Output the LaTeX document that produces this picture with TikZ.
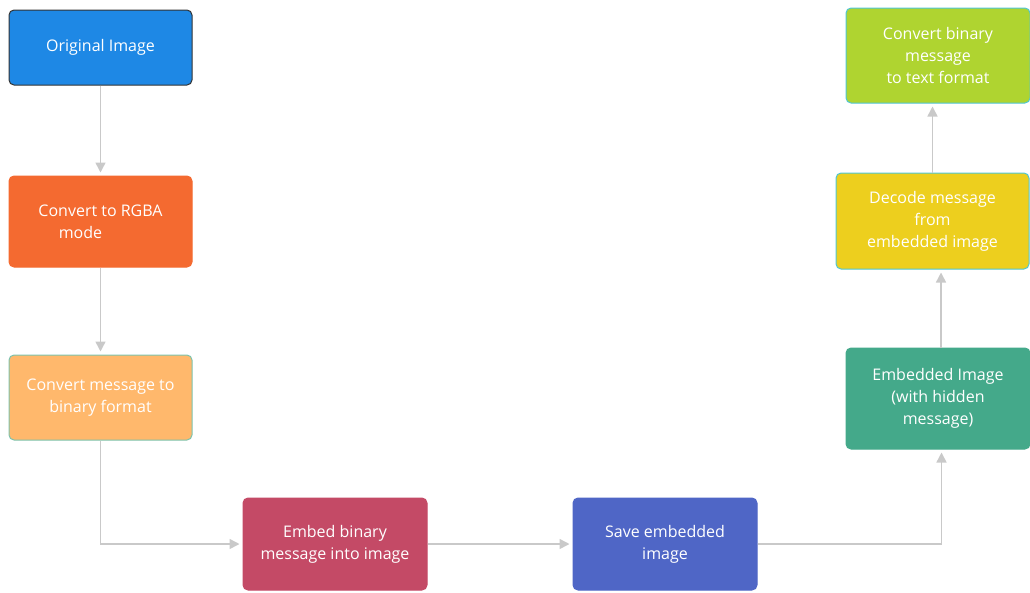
\documentclass[tikz,border=0pt]{standalone}
\usepackage{fontspec}
\setmainfont{Open Sans}
\usetikzlibrary{arrows.meta}
\definecolor{cBlue}{HTML}{1E88E5}
\definecolor{cOrange}{HTML}{F46A30}
\definecolor{cPeach}{HTML}{FFB86C}
\definecolor{cRose}{HTML}{C44A66}
\definecolor{cIndigo}{HTML}{4F66C6}
\definecolor{cTeal}{HTML}{44A98A}
\definecolor{cYellow}{HTML}{EDCF1E}
\definecolor{cLime}{HTML}{AFD430}
\definecolor{cCyan}{HTML}{4FC6D4}
\definecolor{cLine}{HTML}{C9C9C9}
\tikzset{
  stepbox/.style={
    rectangle, rounded corners=5pt, fill=#1, draw=#1, line width=1pt,
    text=white, align=center, inner sep=2pt,
    font=\fontsize{16}{22}\selectfont
  },
  flow/.style={
    draw=cLine, line width=1.5pt, shorten >=3pt,
    -{Triangle[width=10pt,length=10pt]}
  }
}

\begin{document}
\begin{tikzpicture}[x=1pt,y=-1pt]
\useasboundingbox (0,0) rectangle (1030,592);

\node[stepbox=cBlue, draw=black!80, minimum width=183pt, minimum height=75pt] (orig) at (100.5,47.5) {Original Image};
\node[stepbox=cOrange, minimum width=183pt, minimum height=91pt] (rgba) at (100.5,221.5) {Convert to RGBA\\ mode\hspace*{2.5em}};
\node[stepbox=cPeach, draw=cTeal!70, minimum width=183pt, minimum height=85pt] (tobin) at (100.5,397.5) {Convert message to\\ binary format};
\node[stepbox=cRose, minimum width=184pt, minimum height=92pt] (embed) at (335,544) {Embed binary\\ message into image};
\node[stepbox=cIndigo, minimum width=184pt, minimum height=92pt] (save) at (665,544) {Save embedded\\ image};
\node[stepbox=cTeal, minimum width=184pt, minimum height=101pt] (stego) at (938,398.5) {Embedded Image\\ (with hidden\\ message)};
\node[stepbox=cYellow, draw=cCyan, minimum width=193pt, minimum height=96pt] (decode) at (932.5,221) {Decode message\\ from\\ embedded image};
\node[stepbox=cLime, draw=cCyan, minimum width=184pt, minimum height=95pt] (totext) at (938,55.5) {Convert binary\\ message\\ to text format};

\draw[flow] (orig) -- (rgba);
\draw[flow] (rgba) -- (tobin);
\draw[flow] (tobin.south) |- (embed.west);
\draw[flow] (embed) -- (save);
\draw[flow] (save.east) -| ([xshift=3.5pt]stego.south);
\draw[flow] ([xshift=3pt]stego.north) -- ([xshift=3pt]stego.north |- decode.south);
\draw[flow] (decode.north) -- (decode.north |- totext.south);
\end{tikzpicture}
\end{document}
